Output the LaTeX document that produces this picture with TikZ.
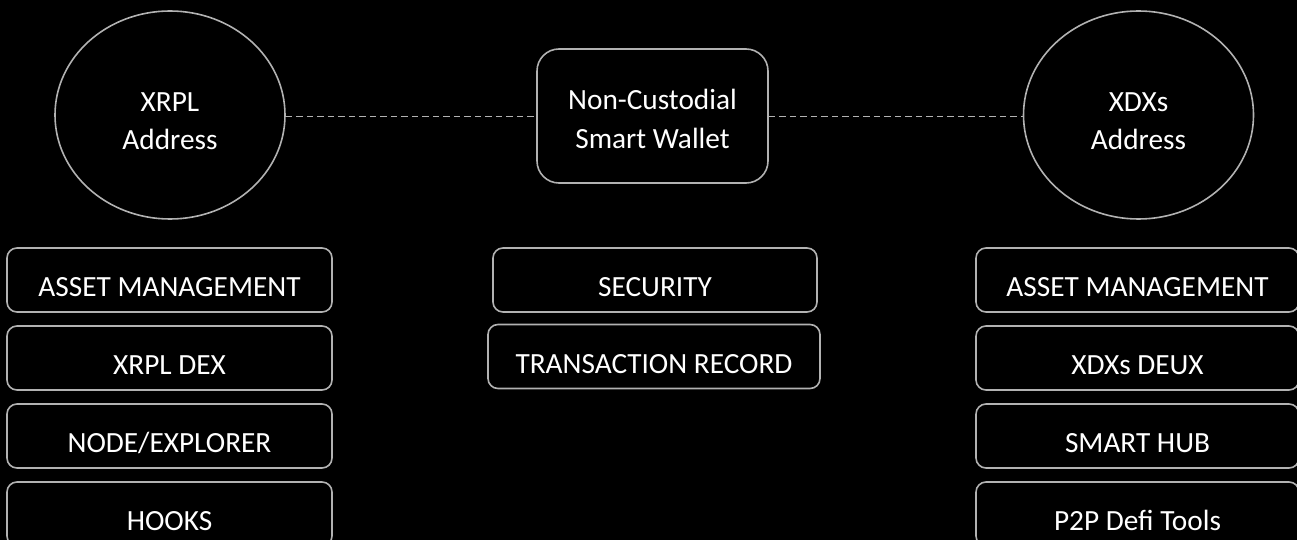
\documentclass[tikz,border=0pt]{standalone}
\usepackage{fontspec}
\setmainfont{Carlito}
\usetikzlibrary{shapes.geometric}
\definecolor{edgecol}{RGB}{178,178,178}
\begin{document}
\begin{tikzpicture}[x=1pt,y=-1pt,
  font=\fontsize{29.3}{39}\selectfont,
  addr/.style={ellipse, draw=edgecol, line width=1.6pt, text=white, align=center,
    inner sep=0pt, minimum width=230pt, minimum height=208pt, text height=70pt, text depth=0pt},
  wallet/.style={rectangle, rounded corners=22pt, draw=edgecol, line width=1.6pt, text=white,
    align=center, inner sep=0pt, minimum width=231pt, minimum height=134pt,
    text height=66pt, text depth=0pt},
  feat/.style={rectangle, rounded corners=10pt, draw=edgecol, line width=1.6pt, text=white,
    inner sep=0pt, minimum height=64pt, text height=33pt, text depth=0pt},
  link/.style={draw=edgecol, line width=1.6pt, dash pattern=on 6.5pt off 4pt}
]
\fill[black] (0,0) rectangle (1297,540);
\useasboundingbox (0,0) rectangle (1297,540);
\clip (0,0) rectangle (1297,540);

\node[addr] (xrpl) at (170,115) {XRPL\\Address};
\node[wallet] (wallet) at (652.5,116) {Non-Custodial\\Smart Wallet};
\node[addr] (xdxs) at (1138.5,115) {XDXs\\Address};

\draw[link] ([yshift=-1.5pt]xrpl.east) -- ([yshift=-0.5pt]wallet.west);
\draw[link] ([yshift=-0.5pt]wallet.east) -- ([yshift=-1.5pt]xdxs.west);

\node[feat, minimum width=325pt] (lam) at (169.5,280) {ASSET MANAGEMENT};
\node[feat, minimum width=325pt] (ldex) at (169.5,358) {XRPL DEX};
\node[feat, minimum width=325pt] (lnode) at (169.5,436) {NODE/EXPLORER};
\node[feat, minimum width=325pt] (lhooks) at (169.5,514) {HOOKS};

\node[feat, minimum width=324pt] (csec) at (655,280) {SECURITY};
\node[feat, minimum width=332pt] (ctx) at (654,356.5) {TRANSACTION RECORD};

\node[feat, minimum width=323pt] (ram) at (1137.5,280) {ASSET MANAGEMENT};
\node[feat, minimum width=323pt] (rdeux) at (1137.5,358) {XDXs DEUX};
\node[feat, minimum width=323pt] (rhub) at (1137.5,436) {SMART HUB};
\node[feat, minimum width=323pt] (rp2p) at (1137.5,514) {P2P Defi Tools};
\end{tikzpicture}
\end{document}
